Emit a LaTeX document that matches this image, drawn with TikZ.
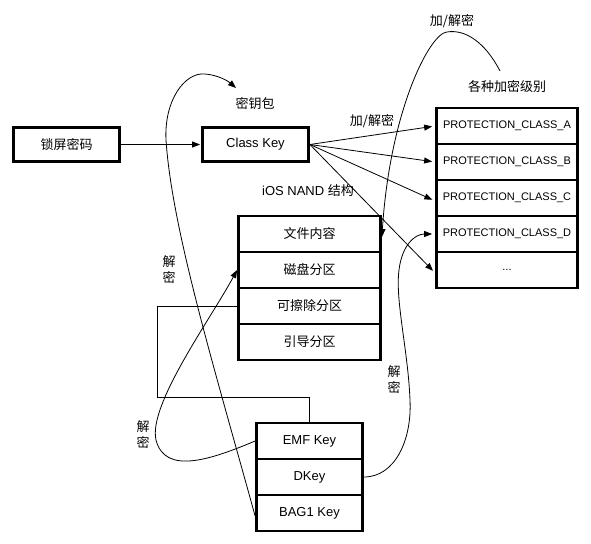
\documentclass[tikz,border=0pt]{standalone}
\usepackage{fontspec}
\setmainfont{Liberation Sans}
\newfontfamily\cjk{Noto Sans CJK SC}
\usetikzlibrary{arrows.meta}
\begin{document}
\begin{tikzpicture}[x=1pt,y=-1pt,
  box/.style={draw,line width=2.8pt,inner sep=0pt,font=\fontsize{13}{15}\selectfont},
  keybox/.style={box,minimum width=106pt,minimum height=34pt},
  prot/.style={box,minimum width=141pt,minimum height=36pt,font=\fontsize{11}{13}\selectfont},
  nand/.style={box,minimum width=142pt,minimum height=36pt,font=\cjk\fontsize{13}{15}\selectfont},
  kb/.style={box,minimum width=106pt,minimum height=36pt},
  lbl/.style={inner sep=0pt,font=\cjk\fontsize{13}{15}\selectfont},
  vlbl/.style={inner sep=0pt,align=center,font=\cjk\fontsize{13}{16}\selectfont},
  conn/.style={line width=0.8pt},
  arr/.style={conn,-{Triangle[length=8pt,width=6pt]}}]
\useasboundingbox[fill=white] (0,0) rectangle (591,543);

% boxes
\node[keybox,font=\cjk\fontsize{13}{15}\selectfont] (lock) at (66.5,144.5) {锁屏密码};
\node[keybox] (ck) at (255.5,144.5) {Class Key};

\node[prot] (pa) at (507,126) {PROTECTION\_CLASS\_A};
\node[prot] (pb) at (507,162) {PROTECTION\_CLASS\_B};
\node[prot] (pc) at (507,198) {PROTECTION\_CLASS\_C};
\node[prot] (pd) at (507,234) {PROTECTION\_CLASS\_D};
\node[prot] (pe) at (507,270) {...};

\node[nand] (fc) at (309.5,234) {文件内容};
\node[nand] (disk) at (309.5,270) {磁盘分区};
\node[nand] (eras) at (309.5,306) {可擦除分区};
\node[nand] (boot) at (309.5,342) {引导分区};

\node[kb] (emf) at (309.5,441) {EMF Key};
\node[kb] (dkey) at (309.5,477) {DKey};
\node[kb] (bag) at (309.5,513) {BAG1 Key};

% labels
\node[lbl] (lbag) at (255,104) {密钥包};
\node[lbl] (lnand) at (308,191) {\setmainfont{Liberation Sans}\rmfamily iOS NAND \cjk 结构};
\node[lbl] (lenc1) at (372,121) {加/解密};
\node[lbl] (lenc2) at (452,21) {加/解密};
\node[lbl] (llevel) at (507,87) {各种加密级别};
\node[vlbl] (ld1) at (169,270) {解\\密};
\node[vlbl] (ld2) at (143,435) {解\\密};
\node[vlbl] (ld3) at (394,380) {解\\密};

% straight connectors
\draw[arr,shorten >=1pt] (lock.east) -- (ck.west);
\draw[arr,shorten >=3pt] (ck.east) -- (pa.west);
\draw[arr,shorten >=3pt] (ck.east) -- (pb.west);
\draw[arr,shorten >=3pt] (ck.east) -- ([yshift=-3pt]pc.west);
\draw[arr,shorten >=3pt] (ck.east) -- ([yshift=-3pt]pe.west);

% BAG1 Key -> key bag
\coordinate (b1) at (166,140);
\coordinate (b2) at (205,74);
\coordinate (b3) at (236,88);
\draw[arr] ([yshift=-3pt]bag.west) .. controls (215,370) and (172,230) .. (b1)
  .. controls (164,100) and (185,72) .. (b2)
  .. controls (218,75) and (228,81) .. (b3);

% protection levels -> file content
\coordinate (t0) at (500,71);
\coordinate (t1) at (447,32);
\draw[arr] (t0) .. controls (485,42) and (465,29) .. (t1)
  .. controls (430,33) and (390,110) .. ([yshift=-3pt]fc.east);

% EMF Key -> disk partition
\coordinate (e1) at (156,440);
\draw[arr] (emf.west) .. controls (210,460) and (165,475) .. (e1)
  .. controls (148,405) and (210,320) .. (disk.west);

% DKey -> PROTECTION_CLASS_D
\coordinate (d1) at (410,400);
\coordinate (d2) at (399,270);
\draw[arr,shorten >=3pt] (dkey.east) .. controls (395,477) and (412,440) .. (d1)
  .. controls (408,350) and (395,300) .. (d2)
  .. controls (402,245) and (415,234) .. (pd.west);

% erasable partition -- EMF Key
\coordinate (r1) at (157,397);
\draw[conn] (eras.west) -| (r1) -| (emf.north);
\end{tikzpicture}
\end{document}
